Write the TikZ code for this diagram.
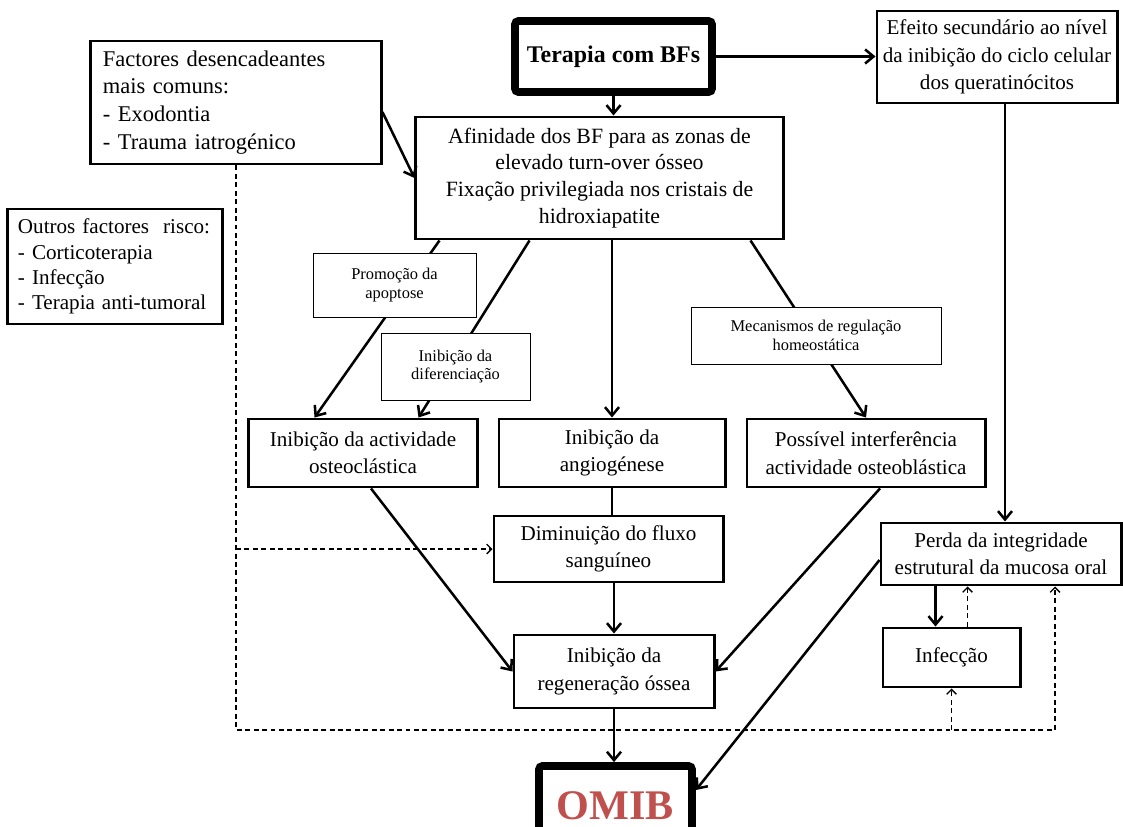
\documentclass[tikz,border=0pt]{standalone}
\usepackage{fontspec}
\setmainfont{Liberation Serif}
\usetikzlibrary{arrows.meta}
\definecolor{omibred}{HTML}{C0504D}
\tikzset{
  box/.style={draw, line width=2.1pt, align=center, inner sep=2pt,
    font=\fontsize{15}{19.5}\selectfont},
  leftbox/.style={box, align=left, inner xsep=0.3cm},
  heavy/.style={line width=5.5pt, rounded corners=2.5pt},
  tag/.style={draw, line width=0.4pt, fill=white, align=center, inner sep=2pt,
    font=\fontsize{11.7}{13}\selectfont},
  flow/.style={line width=1.8pt, -{Straight Barb[length=6pt,width=10pt]}},
  plain/.style={line width=1.8pt},
  dashflow/.style={line width=0.9pt, dash pattern=on 3.5pt off 2.5pt,
    -{Straight Barb[length=3.5pt,width=7pt]}}
}
\begin{document}
\begin{tikzpicture}[x=0.025cm, y=-0.025cm]
\useasboundingbox (0,0) rectangle (1123,827);
% boxes
\node[box, heavy, minimum width=4.925cm, minimum height=1.775cm,
  font=\fontsize{17}{20}\selectfont\bfseries] (terapia) at (613.5,56.5) {Terapia com BFs};
\node[box, minimum width=6cm, minimum height=2.3cm] (efeito) at (997,57)
  {Efeito secundário ao nível\\da inibição do ciclo celular\\dos queratinócitos};
\node[leftbox, text width=6.65cm, minimum width=7.25cm, minimum height=3.075cm,
  font=\fontsize{16}{19.8}\selectfont] (fact) at (236,102.5)
  {Factores desencadeantes\\mais comuns:\\- Exodontia\\- Trauma iatrogénico};
\node[box, minimum width=9.175cm, minimum height=3.05cm,
  font=\fontsize{15.5}{19}\selectfont] (afin) at (599.5,178)
  {Afinidade dos BF para as zonas de\\elevado turn-over ósseo\\Fixação privilegiada nos cristais de\\hidroxiapatite};
\node[leftbox, inner xsep=0.25cm, text width=4.85cm, minimum width=5.3cm, minimum height=2.875cm,
  font=\fontsize{15}{18}\selectfont] (outros) at (115,266.5)
  {Outros factores~ risco:\\- Corticoterapia\\- Infecção\\- Terapia anti-tumoral};
\node[box, minimum width=5.7cm, minimum height=1.7cm] (osteoc) at (363,453)
  {Inibição da actividade\\osteoclástica};
\node[box, minimum width=5.65cm, minimum height=1.7cm] (angio) at (612,453)
  {Inibição da\\angiogénese};
\node[box, minimum width=5.95cm, minimum height=1.7cm] (osteob) at (866,453)
  {Possível interferência\\actividade osteoblástica};
\node[box, minimum width=5.725cm, minimum height=1.65cm] (fluxo) at (608.5,549)
  {Diminuição do fluxo\\sanguíneo};
\node[box, minimum width=6cm, minimum height=1.55cm] (perda) at (1001,554)
  {Perda da integridade\\estrutural da mucosa oral};
\node[box, minimum width=3.425cm, minimum height=1.475cm] (infec) at (951.5,657.5) {Infecção};
\node[box, minimum width=5cm, minimum height=1.825cm] (regen) at (614,671.5)
  {Inibição da\\regeneração óssea};
\node[box, heavy, minimum width=3.825cm, minimum height=2cm, text=omibred,
  font=\fontsize{30}{32}\selectfont\bfseries] (omib) at (615.5,806) {OMIB};
% arrows
\draw[flow] (terapia.south) -- (terapia.south |- afin.north);
\draw[flow] (terapia.east) -- (terapia.east -| efeito.west);
\draw[flow] ([yshift=-0.24cm]fact.east) -- (afin.west);
\draw[flow] ([xshift=0.625cm]afin.south west) -- ([xshift=1.675cm]osteoc.north west);
\draw[flow] ([xshift=2.875cm]afin.south west) -- ([xshift=-1.5cm]osteoc.north east);
\draw[flow] (angio.north |- afin.south) -- (angio.north);
\draw[flow] ([xshift=-0.85cm]afin.south east) -- (osteob.north);
\coordinate (eout) at ([xshift=0.2cm]efeito.south);
\draw[flow] (eout) -- (eout |- perda.north);
\draw[plain] (angio.south) -- (angio.south |- fluxo.north);
\draw[flow] ([xshift=0.2cm]osteoc.south) -- (regen.west);
\draw[flow] (regen.north |- fluxo.south) -- (regen.north);
\draw[flow] ([xshift=0.35cm]osteob.south) -- (regen.east);
\draw[flow] (regen.south) -- (regen.south |- omib.north);
\draw[flow] ([yshift=-0.15cm]perda.west) -- ([yshift=0.4cm]omib.east);
\coordinate (infl) at ([xshift=-0.4cm]infec.north);
\coordinate (infr) at ([xshift=0.4cm]infec.north);
\draw[flow] (infl |- perda.south) -- (infl);
\draw[dashflow] (infr) -- (infr |- perda.south);
% dashed feedback
\coordinate (dbase) at (0,730);
\coordinate (pin) at ([xshift=1.35cm]perda.south);
\draw[dashflow] (fact.south) |- (pin |- dbase) -- (pin);
\draw[dashflow] (fact.south |- fluxo.west) -- (fluxo.west);
\draw[dashflow] (infec.south |- dbase) -- (infec.south);
% labels on arrows
\node[tag, minimum width=4.075cm, minimum height=1.6cm] (promo) at (394.5,285) {Promoção da\\apoptose};
\node[tag, minimum width=3.725cm, minimum height=1.675cm] (difer) at (455.5,366.5) {Inibição da\\diferenciação};
\node[tag, minimum width=6.25cm, minimum height=1.425cm] (mecan) at (816,335.5) {Mecanismos de regulação\\homeostática};
\end{tikzpicture}
\end{document}
